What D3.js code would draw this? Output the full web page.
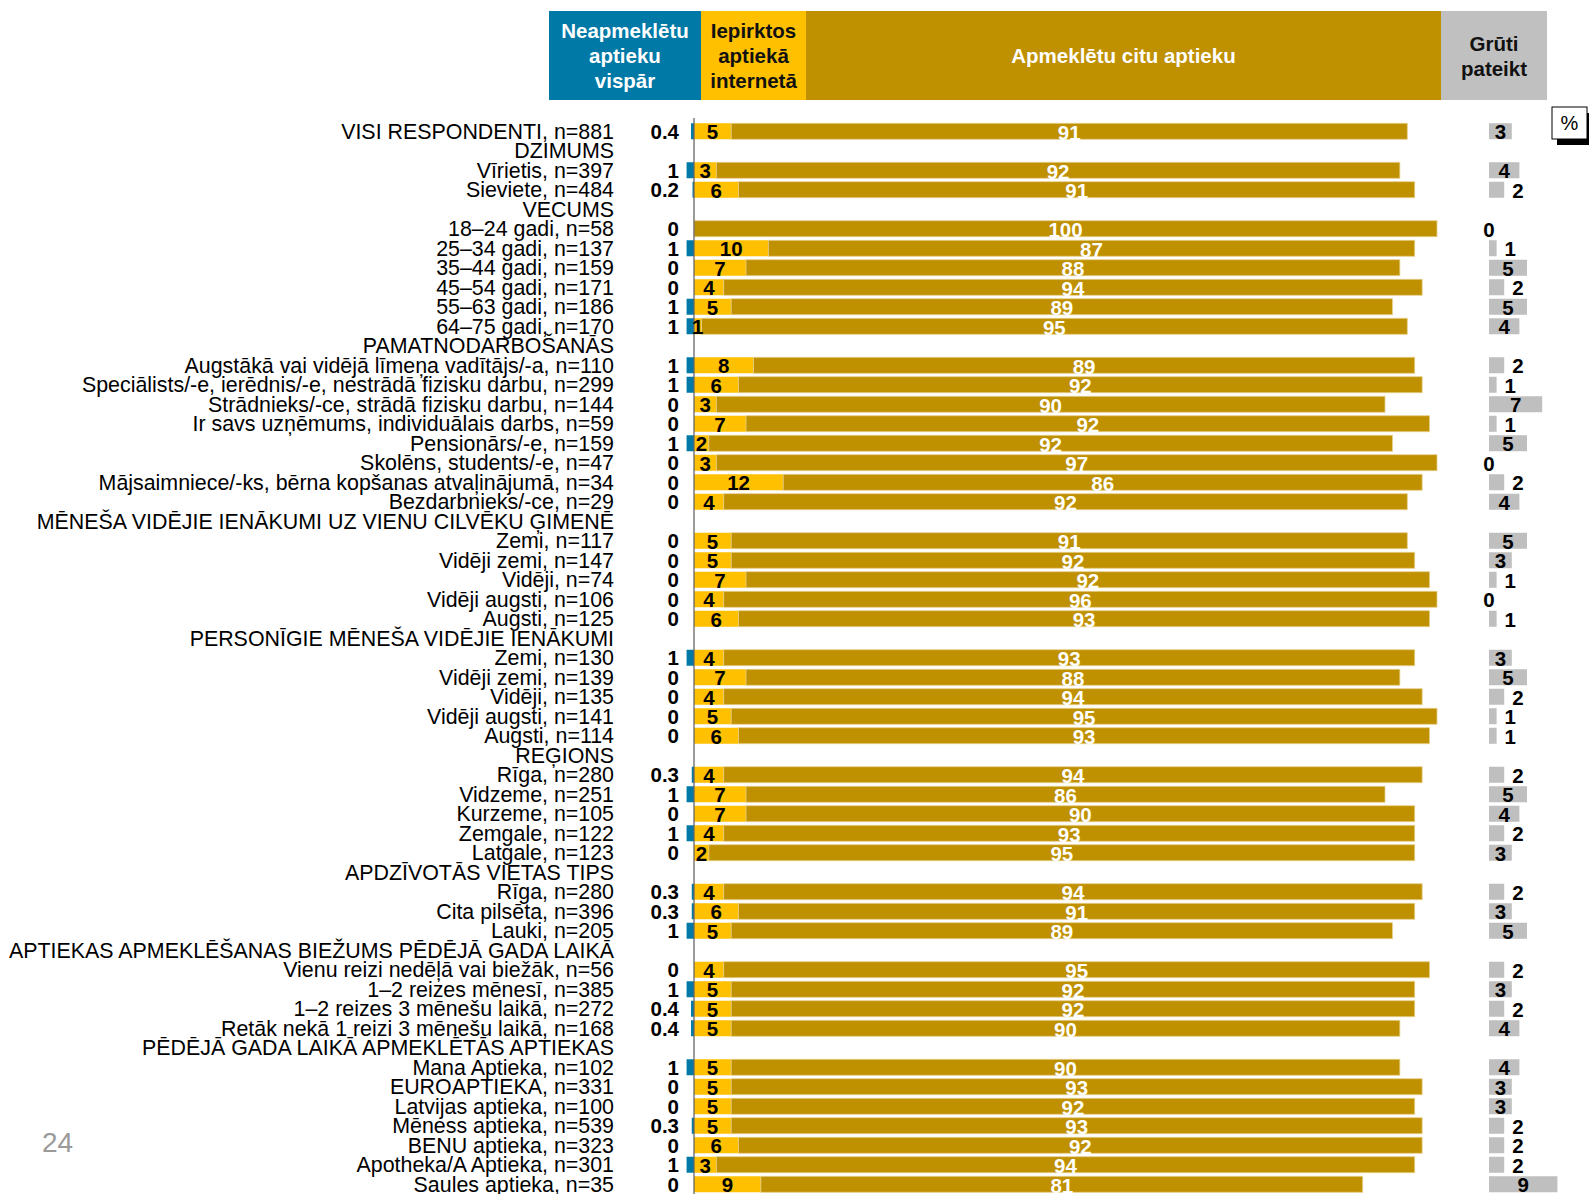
<!DOCTYPE html>
<html>
<head>
<meta charset="utf-8">
<script src="https://cdn.jsdelivr.net/npm/d3@7"></script>
<style>
  body { margin: 0; background: #fff; }
  svg text { font-family: Arial, "Liberation Sans", sans-serif; }
</style>
</head>
<body>
<script>
// rows: null values mark the group headings
var rowLabels = [
  "VISI RESPONDENTI, n=881",
  "DZIMUMS",
  "Vīrietis, n=397",
  "Sieviete, n=484",
  "VECUMS",
  "18–24 gadi, n=58",
  "25–34 gadi, n=137",
  "35–44 gadi, n=159",
  "45–54 gadi, n=171",
  "55–63 gadi, n=186",
  "64–75 gadi, n=170",
  "PAMATNODARBOŠANĀS",
  "Augstākā vai vidējā līmeņa vadītājs/-a, n=110",
  "Speciālists/-e, ierēdnis/-e, nestrādā fizisku darbu, n=299",
  "Strādnieks/-ce, strādā fizisku darbu, n=144",
  "Ir savs uzņēmums, individuālais darbs, n=59",
  "Pensionārs/-e, n=159",
  "Skolēns, students/-e, n=47",
  "Mājsaimniece/-ks, bērna kopšanas atvaļinājumā, n=34",
  "Bezdarbnieks/-ce, n=29",
  "MĒNEŠA VIDĒJIE IENĀKUMI UZ VIENU CILVĒKU ĢIMENĒ",
  "Zemi, n=117",
  "Vidēji zemi, n=147",
  "Vidēji, n=74",
  "Vidēji augsti, n=106",
  "Augsti, n=125",
  "PERSONĪGIE MĒNEŠA VIDĒJIE IENĀKUMI",
  "Zemi, n=130",
  "Vidēji zemi, n=139",
  "Vidēji, n=135",
  "Vidēji augsti, n=141",
  "Augsti, n=114",
  "REĢIONS",
  "Rīga, n=280",
  "Vidzeme, n=251",
  "Kurzeme, n=105",
  "Zemgale, n=122",
  "Latgale, n=123",
  "APDZĪVOTĀS VIETAS TIPS",
  "Rīga, n=280",
  "Cita pilsēta, n=396",
  "Lauki, n=205",
  "APTIEKAS APMEKLĒŠANAS BIEŽUMS PĒDĒJĀ GADA LAIKĀ",
  "Vienu reizi nedēļā vai biežāk, n=56",
  "1–2 reizes mēnesī, n=385",
  "1–2 reizes 3 mēnešu laikā, n=272",
  "Retāk nekā 1 reizi 3 mēnešu laikā, n=168",
  "PĒDĒJĀ GADA LAIKĀ APMEKLĒTĀS APTIEKAS",
  "Mana Aptieka, n=102",
  "EUROAPTIEKA, n=331",
  "Latvijas aptieka, n=100",
  "Mēness aptieka, n=539",
  "BENU aptieka, n=323",
  "Apotheka/A Aptieka, n=301",
  "Saules aptieka, n=35"
];

var notVisited = [0.4, null, 1, 0.2, null, 0, 1, 0, 0, 1, 1, null, 1, 1, 0, 0, 1, 0, 0, 0, null,
  0, 0, 0, 0, 0, null, 1, 0, 0, 0, 0, null, 0.3, 1, 0, 1, 0, null, 0.3, 0.3, 1, null,
  0, 1, 0.4, 0.4, null, 1, 0, 0, 0.3, 0, 1, 0];
var boughtOnline = [5, null, 3, 6, null, 0, 10, 7, 4, 5, 1, null, 8, 6, 3, 7, 2, 3, 12, 4, null,
  5, 5, 7, 4, 6, null, 4, 7, 4, 5, 6, null, 4, 7, 7, 4, 2, null, 4, 6, 5, null,
  4, 5, 5, 5, null, 5, 5, 5, 5, 6, 3, 9];
var otherPharmacy = [91, null, 92, 91, null, 100, 87, 88, 94, 89, 95, null, 89, 92, 90, 92, 92, 97, 86, 92, null,
  91, 92, 92, 96, 93, null, 93, 88, 94, 95, 93, null, 94, 86, 90, 93, 95, null, 94, 91, 89, null,
  95, 92, 92, 90, null, 90, 93, 92, 93, 92, 94, 81];
var hardToSay = [3, null, 4, 2, null, 0, 1, 5, 2, 5, 4, null, 2, 1, 7, 1, 5, 0, 2, 4, null,
  5, 3, 1, 0, 1, null, 3, 5, 2, 1, 1, null, 2, 5, 4, 2, 3, null, 2, 3, 5, null,
  2, 3, 2, 4, null, 4, 3, 3, 2, 2, 2, 9];

var headerLabels = [
  ["Neapmeklētu", "aptieku", "vispār"],
  ["Iepirktos", "aptiekā", "internetā"],
  ["Apmeklētu citu aptieku"],
  ["Grūti", "pateikt"]
];

var cBlue = "#0079a6", cYellow = "#ffc000", cGold = "#bf9000", cGray = "#bfbfbf";

var width = 1589, height = 1194;

var svg = d3.select("body").append("svg")
  .attr("width", width)
  .attr("height", height);

var rows = rowLabels.map(function(l, i) {
  return { i: i, label: l, head: notVisited[i] === null,
    blue: notVisited[i], yellow: boughtOnline[i], gold: otherPharmacy[i], gray: hardToSay[i] };
});

var y = d3.scaleBand()
  .domain(d3.range(rows.length))
  .range([121.5, 121.5 + rows.length * 19.5])
  .padding(0);

var barH = 16;
var x = d3.scaleLinear().domain([0, 100]).range([694, 1437]);
var xg = d3.scaleLinear().domain([0, 100]).range([1489, 1489 + 760]);

var cy = function(i) { return y(i) + y.bandwidth() / 2; };

// ---- column header boxes
var heads = [
  { x0: 549, x1: 701, fill: cBlue, col: "#fff", lines: headerLabels[0] },
  { x0: 701, x1: 806, fill: cYellow, col: "#111", lines: headerLabels[1] },
  { x0: 806, x1: 1441, fill: cGold, col: "#fff", lines: headerLabels[2] },
  { x0: 1441, x1: 1547, fill: "#c0c0c0", col: "#111", lines: headerLabels[3] }
];

var hg = svg.append("g").selectAll("g").data(heads).enter().append("g");
hg.append("rect")
  .attr("x", d => d.x0).attr("y", 11)
  .attr("width", d => d.x1 - d.x0).attr("height", 89)
  .attr("fill", d => d.fill);
hg.each(function(d) {
  var n = d.lines.length;
  d3.select(this).selectAll("text").data(d.lines).enter().append("text")
    .attr("x", (d.x0 + d.x1) / 2)
    .attr("y", (l, k) => 56 + (k - (n - 1) / 2) * 25.3)
    .attr("dy", "0.35em")
    .attr("text-anchor", "middle")
    .attr("font-size", 20.5)
    .attr("font-weight", "bold")
    .attr("fill", d.col)
    .text(l => l);
});

// ---- row labels
svg.append("g").selectAll("text")
  .data(rows).enter().append("text")
  .attr("x", 614)
  .attr("y", d => cy(d.i))
  .attr("dy", "0.36em")
  .attr("text-anchor", "end")
  .attr("font-size", 21.4)
  .attr("fill", "#000")
  .text(d => d.label);

var data = rows.filter(d => !d.head);

// ---- bars
var bars = svg.append("g");

bars.selectAll(".blue").data(data.filter(d => d.blue > 0)).enter().append("rect")
  .attr("x", d => x(0) - (x(d.blue) - x(0)))
  .attr("y", d => cy(d.i) - barH / 2)
  .attr("width", d => x(d.blue) - x(0))
  .attr("height", barH)
  .attr("fill", cBlue);

bars.selectAll(".yellow").data(data.filter(d => d.yellow > 0)).enter().append("rect")
  .attr("x", x(0))
  .attr("y", d => cy(d.i) - barH / 2)
  .attr("width", d => x(d.yellow) - x(0))
  .attr("height", barH)
  .attr("fill", cYellow);

bars.selectAll(".gold").data(data).enter().append("rect")
  .attr("x", d => x(d.yellow))
  .attr("y", d => cy(d.i) - barH / 2)
  .attr("width", d => x(d.yellow + d.gold) - x(d.yellow))
  .attr("height", barH)
  .attr("fill", cGold)
  .attr("stroke", "#e6cf8a")
  .attr("stroke-width", 0.8);

bars.selectAll(".gray").data(data.filter(d => d.gray > 0)).enter().append("rect")
  .attr("x", xg(0))
  .attr("y", d => cy(d.i) - barH / 2)
  .attr("width", d => xg(d.gray) - xg(0))
  .attr("height", barH)
  .attr("fill", cGray);

// axis line at zero
svg.append("line")
  .attr("x1", x(0)).attr("x2", x(0))
  .attr("y1", 118).attr("y2", height)
  .attr("stroke", "#666")
  .attr("stroke-width", 1.3);

// ---- value labels
var vl = svg.append("g")
  .attr("font-size", 20.5)
  .attr("font-weight", "bold");

vl.selectAll(".vb").data(data).enter().append("text")
  .attr("x", 679)
  .attr("y", d => cy(d.i))
  .attr("dy", "0.36em")
  .attr("text-anchor", "end")
  .attr("fill", "#000")
  .text(d => d.blue);

vl.selectAll(".vy").data(data.filter(d => d.yellow > 0)).enter().append("text")
  .attr("x", d => (x(0) + x(d.yellow)) / 2)
  .attr("y", d => cy(d.i))
  .attr("dy", "0.38em")
  .attr("text-anchor", "middle")
  .attr("fill", "#000")
  .text(d => d.yellow);

vl.selectAll(".vg").data(data).enter().append("text")
  .attr("x", d => (x(d.yellow) + x(d.yellow + d.gold)) / 2)
  .attr("y", d => cy(d.i))
  .attr("dy", "0.42em")
  .attr("text-anchor", "middle")
  .attr("fill", "#fff")
  .text(d => d.gold);

vl.selectAll(".vr").data(data).enter().append("text")
  .attr("x", d => {
    if (d.gray >= 3) return (xg(0) + xg(d.gray)) / 2;
    if (d.gray === 0) return xg(0);
    return xg(d.gray) + 8;
  })
  .attr("y", d => cy(d.i))
  .attr("dy", "0.38em")
  .attr("text-anchor", d => (d.gray > 0 && d.gray < 3) ? "start" : "middle")
  .attr("fill", "#000")
  .text(d => d.gray);

// ---- % box
svg.append("rect").attr("x", 1557).attr("y", 113).attr("width", 36).attr("height", 32).attr("fill", "#000");
svg.append("rect").attr("x", 1552).attr("y", 107).attr("width", 35).attr("height", 32)
  .attr("fill", "#fff").attr("stroke", "#000").attr("stroke-width", 1);
svg.append("text").attr("x", 1569.5).attr("y", 123).attr("dy", "0.36em")
  .attr("text-anchor", "middle").attr("font-size", 20).text("%");

// page number
svg.append("text").attr("x", 42).attr("y", 1152)
  .attr("font-size", 28).attr("fill", "#9a9a9a").text("24");
</script>
</body>
</html>
